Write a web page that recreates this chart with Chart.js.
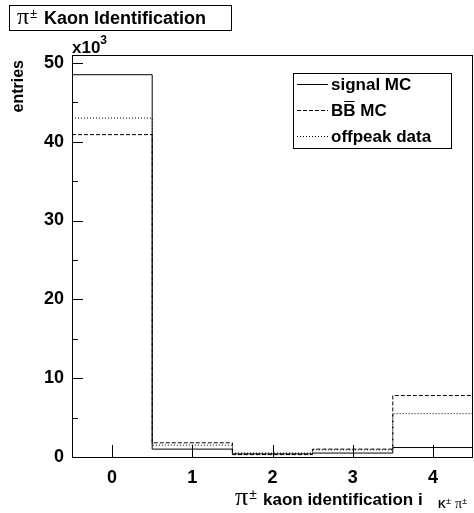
<!DOCTYPE html>
<html>
<head>
<meta charset="utf-8">
<script src="https://cdn.jsdelivr.net/npm/chart.js@4"></script>
<style>
  html, body { margin: 0; padding: 0; background: #ffffff; }
  #histo { display: block; }
</style>
</head>
<body>
<canvas id="histo" width="474" height="513"></canvas>
<script>
// bin centres 0..4, values in units of 10^3 entries
const binLabels = [0, 1, 2, 3, 4];
const binEdges  = [-0.5, 0.5, 1.5, 2.5, 3.5, 4.5];
const signalMC  = [48.5, 1.0, 0.4, 0.5, 1.2];
const bbbarMC   = [40.9, 1.8, 0.3, 1.0, 7.8];
const offpeak   = [43.0, 1.5, 0.5, 0.9, 5.5];
const yMajor    = [0, 10, 20, 30, 40, 50];
const yMinor    = [5, 15, 25, 35, 45];

const FONT = 'Liberation Sans';

// bin contents -> step points, last value repeated at the upper edge
function toSteps(values) {
    return binEdges.map((x, i) => ({ x: x, y: values[Math.min(i, values.length - 1)] }));
}

function histDataset(label, values, dash) {
    return {
        label: label,
        data: toSteps(values),
        borderColor: '#000000',
        borderWidth: 1,
        borderDash: dash,
        stepped: 'before',   // chart.js 'before' keeps the left point's height over the bin
        pointRadius: 0,
        fill: false,
        clip: 2
    };
}

// draw a run of text pieces; p.at forces an absolute x
function drawRich(ctx, parts, x, y) {
    let cx = x;
    parts.forEach(p => {
        if (p.at !== undefined) cx = p.at;
        ctx.font = p.font;
        ctx.fillText(p.t, cx, y + (p.dy || 0));
        cx += ctx.measureText(p.t).width + (p.gap || 0);
    });
    return cx - x;
}

const rootDecor = {
    id: 'rootDecor',
    afterDraw(chart) {
        const ctx = chart.ctx;
        const area = chart.chartArea;
        const xs = chart.scales.x;
        const ys = chart.scales.y;

        ctx.save();
        ctx.strokeStyle = '#000';
        ctx.fillStyle = '#000';
        ctx.lineWidth = 1;
        ctx.setLineDash([]);

        // frame
        ctx.strokeRect(Math.round(area.left) + 0.5, Math.round(area.top) + 0.5,
            Math.round(area.right - area.left) - 1, Math.round(area.bottom - area.top));

        // y ticks pointing inwards
        ctx.beginPath();
        yMajor.forEach(v => {
            const py = Math.round(ys.getPixelForValue(v)) + 0.5;
            ctx.moveTo(area.left, py); ctx.lineTo(area.left + 11, py);
        });
        yMinor.forEach(v => {
            const py = Math.round(ys.getPixelForValue(v)) + 0.5;
            ctx.moveTo(area.left, py); ctx.lineTo(area.left + 6, py);
        });
        // x ticks pointing up
        binLabels.forEach(v => {
            const px = Math.round(xs.getPixelForValue(v)) + 0.5;
            ctx.moveTo(px, area.bottom); ctx.lineTo(px, area.bottom - 12);
        });
        ctx.stroke();

        ctx.textBaseline = 'alphabetic';
        ctx.textAlign = 'left';

        // title box
        ctx.strokeRect(9.5, 5.5, 222, 25);
        drawRich(ctx, [
            { t: 'π', font: '24px Liberation Serif', gap: 1 },
            { t: '±', font: '13px ' + FONT, dy: -6 },
            { t: 'Kaon Identification', font: 'bold 18px ' + FONT, at: 44 }
        ], 17, 24);

        // x10^3 multiplier
        drawRich(ctx, [
            { t: 'x10', font: 'bold 17px ' + FONT },
            { t: '3', font: 'bold 12px ' + FONT, dy: -9 }
        ], area.left, 53);

        // y axis title
        ctx.save();
        ctx.translate(23, 60);
        ctx.rotate(-Math.PI / 2);
        ctx.textAlign = 'right';
        ctx.font = 'bold 16px ' + FONT;
        ctx.fillText('entries', 0, 0);
        ctx.restore();

        // x axis title with subscript
        drawRich(ctx, [
            { t: 'π', font: '26px Liberation Serif', gap: 1 },
            { t: '±', font: '14px ' + FONT, dy: -6 },
            { t: 'kaon identification i', font: 'bold 17px ' + FONT, at: 263 },
            { t: 'K', font: 'bold 11px ' + FONT, dy: 3, at: 438 },
            { t: '±', font: '9px ' + FONT, dy: -1, gap: 4 },
            { t: 'π', font: '14px Liberation Serif', dy: 3 },
            { t: '±', font: '9px ' + FONT, dy: -1 }
        ], 235, 505);

        // legend
        const lx = 293, ly = 73, lw = 158, lh = 75;
        ctx.fillStyle = '#fff';
        ctx.fillRect(lx, ly, lw, lh);
        ctx.fillStyle = '#000';
        ctx.strokeRect(lx + 0.5, ly + 0.5, lw, lh);
        const rowY = [84, 110, 136];
        chart.data.datasets.forEach((ds, i) => {
            ctx.setLineDash(ds.borderDash || []);
            ctx.beginPath();
            ctx.moveTo(297, rowY[i] + 0.5);
            ctx.lineTo(328, rowY[i] + 0.5);
            ctx.stroke();
            ctx.setLineDash([]);
            ctx.font = 'bold 17px ' + FONT;
            ctx.textBaseline = 'middle';
            ctx.fillText(ds.label, 331, rowY[i] + 1);
            if (i === 1) {
                // overline on the second B of B B-bar
                const wB = ctx.measureText('B').width;
                ctx.beginPath();
                ctx.moveTo(331 + wB + 1, rowY[i] - 8.5);
                ctx.lineTo(331 + 2 * wB - 1, rowY[i] - 8.5);
                ctx.stroke();
            }
        });
        ctx.restore();
    }
};

const ctx = document.getElementById('histo').getContext('2d');
const histo = new Chart(ctx, {
    type: 'line',
    data: {
        datasets: [
            histDataset('signal MC', signalMC, []),
            histDataset('BB MC', bbbarMC, [4, 2]),
            histDataset('offpeak data', offpeak, [1, 2])
        ]
    },
    options: {
        responsive: false,
        animation: false,
        devicePixelRatio: 1,
        layout: { padding: { top: 55, right: 1, left: 0, bottom: 0 } },
        plugins: {
            legend: { display: false },
            tooltip: { enabled: false }
        },
        scales: {
            x: {
                type: 'linear',
                min: -0.5,
                max: 4.5,
                afterBuildTicks: (scale) => { scale.ticks = binLabels.map(v => ({ value: v })); },
                afterFit: (scale) => { scale.height = 56; },
                ticks: {
                    color: '#000',
                    font: { family: FONT, size: 18, weight: 'bold' },
                    padding: 10,
                    maxRotation: 0
                },
                grid: { display: false, drawTicks: false },
                border: { display: false }
            },
            y: {
                min: 0,
                max: 51,
                afterBuildTicks: (scale) => { scale.ticks = yMajor.map(v => ({ value: v })); },
                afterFit: (scale) => { scale.width = 72; },
                ticks: {
                    color: '#000',
                    font: { family: FONT, size: 18, weight: 'bold' },
                    padding: 8
                },
                grid: { display: false, drawTicks: false },
                border: { display: false }
            }
        }
    },
    plugins: [rootDecor]
});
</script>
</body>
</html>
